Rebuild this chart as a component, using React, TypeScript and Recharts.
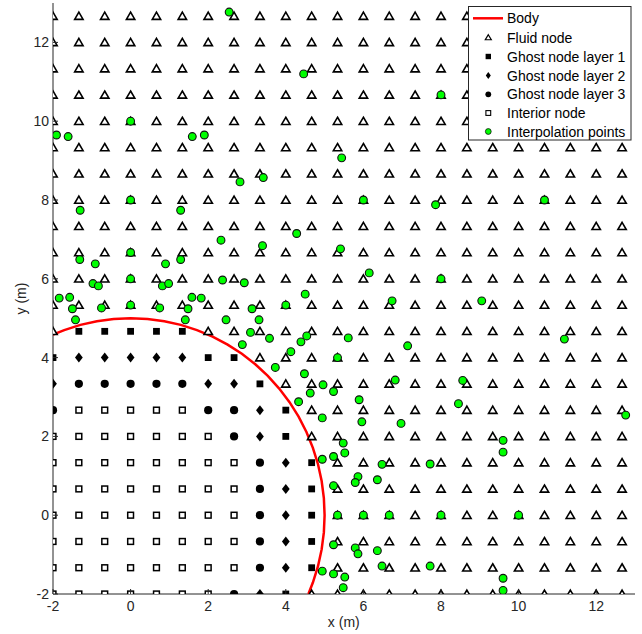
import React from 'react';
import { ScatterChart, Scatter, XAxis, YAxis } from 'recharts';

// Grid node coordinates (spacing 2/3 m)
const gridX = [-2, -1.3333, -0.6667, 0, 0.6667, 1.3333, 2, 2.6667, 3.3333, 4, 4.6667, 5.3333, 6, 6.6667, 7.3333, 8, 8.6667, 9.3333, 10, 10.6667, 11.3333, 12, 12.6667];
const gridY = [-2, -1.3333, -0.6667, 0, 0.6667, 1.3333, 2, 2.6667, 3.3333, 4, 4.6667, 5.3333, 6, 6.6667, 7.3333, 8, 8.6667, 9.3333, 10, 10.6667, 11.3333, 12, 12.6667];

// Node type per grid row, from y = -2 (first) to y = 12.67 (last)
// F = fluid node, 1/2/3 = ghost node layer, I = interior node
const nodeRows = [
  'IIIIIII321FFFFFFFFFFFFF',
  'IIIIIIII321FFFFFFFFFFFF',
  'IIIIIIII321FFFFFFFFFFFF',
  'IIIIIIII321FFFFFFFFFFFF',
  'IIIIIIII321FFFFFFFFFFFF',
  'IIIIIIII321FFFFFFFFFFFF',
  'IIIIIII321FFFFFFFFFFFFF',
  '3IIIII3321FFFFFFFFFFFFF',
  '233333221FFFFFFFFFFFFFF',
  '12222211FFFFFFFFFFFFFFF',
  'F11111FFFFFFFFFFFFFFFFF',
  'FFFFFFFFFFFFFFFFFFFFFFF',
  'FFFFFFFFFFFFFFFFFFFFFFF',
  'FFFFFFFFFFFFFFFFFFFFFFF',
  'FFFFFFFFFFFFFFFFFFFFFFF',
  'FFFFFFFFFFFFFFFFFFFFFFF',
  'FFFFFFFFFFFFFFFFFFFFFFF',
  'FFFFFFFFFFFFFFFFFFFFFFF',
  'FFFFFFFFFFFFFFFFFFFFFFF',
  'FFFFFFFFFFFFFFFFFFFFFFF',
  'FFFFFFFFFFFFFFFFFFFFFFF',
  'FFFFFFFFFFFFFFFFFFFFFFF',
  'FFFFFFFFFFFFFFFFFFFFFFF',
];

// Body outline (circle, r = 5 m)
const bodyX = [-2.0, -1.71, -1.294, -0.868, -0.436, 0, 0.436, 0.868, 1.294, 1.71, 2.113, 2.5, 2.868, 3.214, 3.536, 3.83, 4.096, 4.33, 4.532, 4.698, 4.83, 4.924, 4.981, 5.0, 4.981, 4.924, 4.83, 4.698, 4.583];
const bodyY = [4.583, 4.698, 4.83, 4.924, 4.981, 5.0, 4.981, 4.924, 4.83, 4.698, 4.532, 4.33, 4.096, 3.83, 3.536, 3.214, 2.868, 2.5, 2.113, 1.71, 1.294, 0.868, 0.436, 0, -0.436, -0.868, -1.294, -1.71, -2.0];

// Interpolation points
const interpX = [
  -1.91, -1.61, 0, 1.59, 1.9, 0, -1.3, 1.29, -1.31, -0.91, 0, 0.9, 1.29, -0.97, -0.83, 0, 0.82, 0.98,
  -1.84, -1.57, 1.58, 1.82, -1.5, -0.75, 0, 0.75, 1.48, -1.42, 1.41,
  2.54, 4.46, 5.44, 2.82, 3.42, 6, 8, 7.86, 10.667, 2.33, 4.28, 3.4, 5.41, 2.37, 2.93, 6.15, 4.5, 4, 6.74,
  3.13, 2.46, 3.31, 3.09, 3.58, 4.54, 4.39, 2.88, 5.61, 7.14, 4.13, 5.333, 3.73, 4.48, 6.82, 4.96, 4.63,
  5.23, 5.89, 4.33, 8, 9.05, 11.18, 8.56, 8.45, 12.76, 9.6, 9.6, 7.72, 8, 10, 7.72, 9.6, 9.6,
  4.94, 5.96, 6.97, 5.48, 5.52, 4.94, 5.23, 6.48, 5.86, 5.79, 6.36, 5.23, 5.333, 6, 6.667,
  5.23, 5.79, 5.86, 6.36, 6.48, 4.94, 5.23, 5.52, 5.48,
];
const interpY = [
  9.65, 9.61, 10, 9.61, 9.65, 8, 7.74, 7.74, 6.49, 6.38, 6.667, 6.38, 6.49, 5.88, 5.82, 6, 5.82, 5.88,
  5.51, 5.53, 5.53, 5.51, 5.24, 5.26, 5.333, 5.26, 5.24, 4.96, 4.96,
  12.77, 11.2, 9.07, 8.46, 8.57, 8, 10.667, 7.88, 8, 6.98, 7.15, 6.84, 6.76, 5.97, 5.9, 6.15, 5.61, 5.333, 5.44,
  5.24, 4.96, 4.96, 4.64, 4.49, 4.55, 4.4, 4.33, 4.5, 4.3, 4.15, 4, 3.75, 3.59, 3.43, 3.31, 3.1,
  3.14, 2.93, 2.88, 6, 5.44, 4.47, 3.42, 2.83, 2.54, 1.9, 1.6, 1.3, 0, 0, -1.29, -1.6, -1.91,
  2.47, 2.37, 2.33, 1.83, 1.58, 1.42, 1.49, 1.29, 0.98, 0.83, 0.9, 0.75, 0, 0, 0,
  -0.75, -0.83, -0.98, -0.9, -1.29, -1.42, -1.49, -1.57, -1.84,
];

const xTicks = [-2, 0, 2, 4, 6, 8, 10, 12];
const yTicks = [-2, 0, 2, 4, 6, 8, 10, 12];

const legendNames = ['Body', 'Fluid node', 'Ghost node layer 1', 'Ghost node layer 2', 'Ghost node layer 3', 'Interior node', 'Interpolation points'];

const FONT = '"Liberation Sans", Arial, sans-serif';
const INK = '#262626';

function nodesOf(code: string) {
  const out: { x: number; y: number }[] = [];
  nodeRows.forEach((row, j) => {
    for (let i = 0; i < row.length; i++) {
      if (row[i] === code) out.push({ x: gridX[i], y: gridY[j] });
    }
  });
  return out;
}

const fluid = nodesOf('F');
const ghost1 = nodesOf('1');
const ghost2 = nodesOf('2');
const ghost3 = nodesOf('3');
const interior = nodesOf('I');
const body = bodyX.map((x, i) => ({ x, y: bodyY[i] }));
const interp = interpX.map((x, i) => ({ x, y: interpY[i] }));

const triPath = (cx: number, cy: number, w: number, h: number) =>
  `M${cx},${cy - h * 0.55}L${cx + w / 2},${cy + h * 0.45}L${cx - w / 2},${cy + h * 0.45}Z`;
const diaPath = (cx: number, cy: number, w: number, h: number) =>
  `M${cx},${cy - h / 2}L${cx + w / 2},${cy}L${cx},${cy + h / 2}L${cx - w / 2},${cy}Z`;

const TriShape = (p: any) => (
  <path d={triPath(p.cx, p.cy, 8.4, 7.2)} fill="#fff" stroke="#000" strokeWidth={1.6} strokeLinejoin="miter" />
);
const SquareShape = (p: any) => <rect x={p.cx - 3.4} y={p.cy - 3.4} width={6.8} height={6.8} fill="#000" />;
const DiamondShape = (p: any) => <path d={diaPath(p.cx, p.cy, 7.8, 10)} fill="#000" />;
const CircleShape = (p: any) => <circle cx={p.cx} cy={p.cy} r={4.1} fill="#000" />;
const OpenSquareShape = (p: any) => (
  <rect x={p.cx - 2.9} y={p.cy - 2.9} width={5.8} height={5.8} fill="#fff" stroke="#000" strokeWidth={1.5} />
);
const GreenShape = (p: any) => (
  <circle cx={p.cx} cy={p.cy} r={3.9} fill="#00ff00" stroke="#111" strokeWidth={1.1} />
);
const NoShape = () => <g />;

const XTick = (p: any) => {
  const { x, y, payload } = p;
  return (
    <g>
      <line x1={x} y1={y} x2={x} y2={y - 5} stroke={INK} strokeWidth={1} />
      <text x={x} y={y + 17} textAnchor="middle" fontSize={14} fontFamily={FONT} fill={INK}>
        {payload.value}
      </text>
    </g>
  );
};

const YTick = (p: any) => {
  const { x, y, payload } = p;
  return (
    <g>
      <line x1={x} y1={y} x2={x + 5} y2={y} stroke={INK} strokeWidth={1} />
      <text x={x - 4} y={y + 5} textAnchor="end" fontSize={14} fontFamily={FONT} fill={INK}>
        {payload.value}
      </text>
    </g>
  );
};

function LegendBox() {
  const lx = 488.3;
  const rows = [18.3, 37.5, 56.5, 75.5, 94.3, 113, 131.5];
  const symbols = [
    <line key="b" x1={473} y1={rows[0]} x2={503} y2={rows[0]} stroke="#ff0000" strokeWidth={2.5} />,
    <path key="f" d={triPath(lx, rows[1], 6, 5)} fill="#fff" stroke="#000" strokeWidth={1.2} />,
    <rect key="g1" x={lx - 2.7} y={rows[2] - 2.7} width={5.4} height={5.4} fill="#000" />,
    <path key="g2" d={diaPath(lx, rows[3], 5, 7)} fill="#000" />,
    <circle key="g3" cx={lx} cy={rows[4]} r={2.9} fill="#000" />,
    <rect key="in" x={lx - 2.4} y={rows[5] - 2.4} width={4.8} height={4.8} fill="#fff" stroke="#000" strokeWidth={1.1} />,
    <circle key="ip" cx={lx} cy={rows[6]} r={2.9} fill="#00ff00" stroke="#111" strokeWidth={0.8} />,
  ];
  return (
    <g>
      <rect x={468.5} y={6.5} width={162.5} height={133.5} fill="#fff" stroke={INK} strokeWidth={1} />
      {legendNames.map((name, i) => (
        <g key={name}>
          {symbols[i]}
          <text x={507} y={rows[i] + 5} fontSize={14} fontFamily={FONT} fill="#000">
            {name}
          </text>
        </g>
      ))}
    </g>
  );
}

export default function App() {
  return (
    <div style={{ position: 'absolute', left: 0, top: 0, width: 642, height: 634, background: '#fff' }}>
      <ScatterChart width={642} height={634} margin={{ top: 3, right: 7, bottom: 0, left: 0 }}>
        <XAxis
          type="number"
          dataKey="x"
          domain={[-2, 13]}
          ticks={xTicks}
          interval={0}
          tickSize={0}
          tickMargin={0}
          tickLine={false}
          tick={<XTick />}
          axisLine={{ stroke: INK }}
          height={40}
          allowDataOverflow
        />
        <YAxis
          type="number"
          dataKey="y"
          domain={[-2, 13]}
          ticks={yTicks}
          interval={0}
          tickSize={0}
          tickMargin={0}
          tickLine={false}
          tick={<YTick />}
          axisLine={{ stroke: INK }}
          width={53}
          allowDataOverflow
        />
        <Scatter
          name="Body"
          data={body}
          line={{ stroke: '#ff0000', strokeWidth: 2.5 }}
          lineType="joint"
          shape={<NoShape />}
          isAnimationActive={false}
        />
        <Scatter name="Fluid node" data={fluid} shape={<TriShape />} isAnimationActive={false} />
        <Scatter name="Ghost node layer 1" data={ghost1} shape={<SquareShape />} isAnimationActive={false} />
        <Scatter name="Ghost node layer 2" data={ghost2} shape={<DiamondShape />} isAnimationActive={false} />
        <Scatter name="Ghost node layer 3" data={ghost3} shape={<CircleShape />} isAnimationActive={false} />
        <Scatter name="Interior node" data={interior} shape={<OpenSquareShape />} isAnimationActive={false} />
        <Scatter name="Interpolation points" data={interp} shape={<GreenShape />} isAnimationActive={false} />
      </ScatterChart>
      <svg
        width={642}
        height={634}
        style={{ position: 'absolute', left: 0, top: 0, pointerEvents: 'none' }}
      >
        <LegendBox />
        <text x={343.8} y={627} textAnchor="middle" fontSize={14} fontFamily={FONT} fill={INK}>
          x (m)
        </text>
        <text
          x={26}
          y={298.5}
          textAnchor="middle"
          fontSize={14}
          fontFamily={FONT}
          fill={INK}
          transform="rotate(-90, 26, 298.5)"
        >
          y (m)
        </text>
      </svg>
    </div>
  );
}
